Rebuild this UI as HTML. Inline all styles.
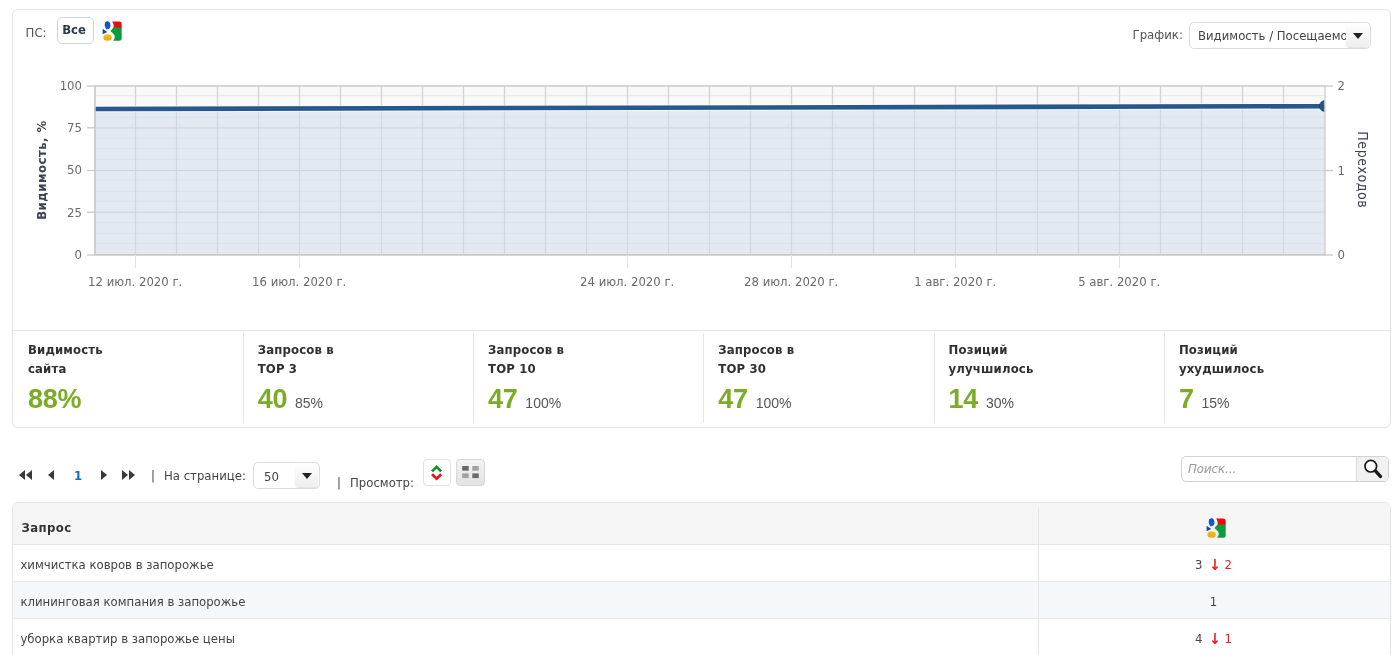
<!DOCTYPE html>
<html lang="ru"><head><meta charset="utf-8"><title>Позиции</title>
<style>
*{box-sizing:border-box}
html,body{margin:0;padding:0;background:#fff}
body{width:1400px;height:655px;overflow:hidden;position:relative;font-family:"DejaVu Sans Condensed","Liberation Sans",sans-serif;font-size:13px;color:#444}
.abs{position:absolute}
.panel{position:absolute;left:12px;top:9px;width:1379px;height:419px;border:1px solid #e4e4e4;border-radius:6px;background:#fff}
.chart{position:absolute;left:-1px;top:0px}
.ax{font-size:13px;fill:#6a6a6a;font-family:"DejaVu Sans Condensed","Liberation Sans",sans-serif}
.ayl{font-size:13px;letter-spacing:0.5px;font-weight:bold;fill:#3d4450;font-family:"DejaVu Sans Condensed","Liberation Sans",sans-serif}
.ayr{font-size:14px;letter-spacing:0.55px;fill:#3d4450;font-family:"DejaVu Sans Condensed","Liberation Sans",sans-serif}
.ps{position:absolute;left:25.6px;top:25px;line-height:16px;color:#555}
.btn-all{position:absolute;left:57px;top:17px;width:37px;height:27px;border:1px solid #cfd6dc;border-radius:5px;background:#fff;font-weight:bold;color:#2b3a4d;line-height:24px;text-align:center;font-size:13px;padding-right:3px;letter-spacing:-0.1px}
.gi{position:absolute}
.grl{position:absolute;left:1132.5px;top:27px;line-height:16px;color:#555}
.sel{position:absolute;border:1px solid #dcdcdc;border-radius:5px;background:#fff;overflow:hidden;white-space:nowrap;color:#444}
.sel .arr{position:absolute;right:1px;top:0px;bottom:1px;width:23px;background:linear-gradient(#fefefe,#eeeeee);border-radius:4px;box-shadow:0 1px 1px rgba(0,0,0,.12)}
.sel .arr:after{content:"";position:absolute;left:50%;top:50%;margin:-1.8px 0 0 -5px;border:5px solid transparent;border-top:6px solid #222;border-bottom:0}
.hr{position:absolute;left:0;right:0;top:320px;height:1px;background:#e6e6e6}
.st{position:absolute;top:323px;height:90px;width:230px;border-left:1px solid #e6e6e6;padding:8px 0 0 14px}
.st0{border-left:0;padding-left:15px}
.sl{font-weight:bold;color:#303030;line-height:19.5px;font-size:13px;letter-spacing:0.15px;position:relative;top:-1.5px}
.sv{font-family:"Liberation Sans",sans-serif;margin-top:4.3px;line-height:30px;white-space:nowrap}
.sv b{font-size:27px;color:#7bab27;font-weight:bold;letter-spacing:-0.3px}
.sv span{font-size:14px;color:#555;margin-left:4.3px}
.pg{position:absolute;top:468px;font-size:13px;line-height:16px;color:#444}
.tri{position:absolute;width:0;height:0;border:5.3px solid transparent;margin-top:-0.6px}
.tl{border-right:6.5px solid #3a3a3a;border-left:0}
.trr{border-left:6.5px solid #3a3a3a;border-right:0}
.ib{position:absolute;top:459px;width:28px;height:27px;border-radius:4px}
.table{position:absolute;left:12px;top:502px;width:1379px;height:160px;border:1px solid #e4e4e4;border-radius:6px 6px 0 0;background:#fff;overflow:hidden}
.th{position:absolute;left:0;top:0;right:0;height:42px;background:#f5f5f5;border-bottom:1px solid #e6e6e6}
.th b{position:absolute;left:8.5px;top:16.5px;line-height:16px;color:#333;font-size:13px;letter-spacing:0.4px}
.vsep{position:absolute;left:1025px;top:5px;bottom:0;width:1px;background:#e6e6e6}
.tr{position:absolute;left:0;right:0;height:37px;border-bottom:1px solid #e9e9e9;line-height:16px}
.tr.alt{background:#f5f8fb}
.tq{position:absolute;left:7.4px;top:11.6px;color:#444}
.tv{position:absolute;left:1024px;right:0;top:11.6px;text-align:center;color:#444}
.dn{color:#e8202a}
.n{margin-right:6.6px}
.ar{color:#e8202a;font-size:15px;font-weight:bold;line-height:0;margin-right:4px;position:relative;top:1px}
.search{position:absolute;left:1181px;top:456px;width:208px;height:26px;border:1px solid #d2d2d2;border-radius:5px;background:#fff;overflow:hidden}
.search i{position:absolute;left:6px;top:3.6px;line-height:16px;color:#9a9a9a;font-size:13px}
.search .sb{position:absolute;right:0;top:0;bottom:0;width:32px;background:#f1f1f1;border-left:1px solid #d8d8d8}
</style></head><body>
<div class="panel">
<svg class="chart" width="1378" height="320" viewBox="12 10 1378 320">
<rect x="95" y="86.1" width="1230" height="168.9" fill="#f9f9f9"/>
<line x1="95" x2="1325" y1="95.70" y2="95.70" stroke="#e8e8e8" stroke-width="1"/>
<line x1="95" x2="1325" y1="106.40" y2="106.40" stroke="#e8e8e8" stroke-width="1"/>
<line x1="95" x2="1325" y1="117.20" y2="117.20" stroke="#e8e8e8" stroke-width="1"/>
<line x1="95" x2="1325" y1="138.00" y2="138.00" stroke="#e8e8e8" stroke-width="1"/>
<line x1="95" x2="1325" y1="148.70" y2="148.70" stroke="#e8e8e8" stroke-width="1"/>
<line x1="95" x2="1325" y1="159.40" y2="159.40" stroke="#e8e8e8" stroke-width="1"/>
<line x1="95" x2="1325" y1="180.20" y2="180.20" stroke="#e8e8e8" stroke-width="1"/>
<line x1="95" x2="1325" y1="191.30" y2="191.30" stroke="#e8e8e8" stroke-width="1"/>
<line x1="95" x2="1325" y1="201.20" y2="201.20" stroke="#e8e8e8" stroke-width="1"/>
<line x1="95" x2="1325" y1="222.60" y2="222.60" stroke="#e8e8e8" stroke-width="1"/>
<line x1="95" x2="1325" y1="233.30" y2="233.30" stroke="#e8e8e8" stroke-width="1"/>
<line x1="95" x2="1325" y1="243.70" y2="243.70" stroke="#e8e8e8" stroke-width="1"/>
<line x1="135.50" x2="135.50" y1="86.1" y2="255" stroke="#d3d3d3" stroke-width="1.25"/>
<line x1="176.50" x2="176.50" y1="86.1" y2="255" stroke="#d3d3d3" stroke-width="1.25"/>
<line x1="217.50" x2="217.50" y1="86.1" y2="255" stroke="#d3d3d3" stroke-width="1.25"/>
<line x1="258.50" x2="258.50" y1="86.1" y2="255" stroke="#d3d3d3" stroke-width="1.25"/>
<line x1="299.50" x2="299.50" y1="86.1" y2="255" stroke="#d3d3d3" stroke-width="1.25"/>
<line x1="340.50" x2="340.50" y1="86.1" y2="255" stroke="#d3d3d3" stroke-width="1.25"/>
<line x1="381.50" x2="381.50" y1="86.1" y2="255" stroke="#d3d3d3" stroke-width="1.25"/>
<line x1="422.50" x2="422.50" y1="86.1" y2="255" stroke="#d3d3d3" stroke-width="1.25"/>
<line x1="463.50" x2="463.50" y1="86.1" y2="255" stroke="#d3d3d3" stroke-width="1.25"/>
<line x1="504.50" x2="504.50" y1="86.1" y2="255" stroke="#d3d3d3" stroke-width="1.25"/>
<line x1="545.50" x2="545.50" y1="86.1" y2="255" stroke="#d3d3d3" stroke-width="1.25"/>
<line x1="586.50" x2="586.50" y1="86.1" y2="255" stroke="#d3d3d3" stroke-width="1.25"/>
<line x1="627.50" x2="627.50" y1="86.1" y2="255" stroke="#d3d3d3" stroke-width="1.25"/>
<line x1="668.50" x2="668.50" y1="86.1" y2="255" stroke="#d3d3d3" stroke-width="1.25"/>
<line x1="709.50" x2="709.50" y1="86.1" y2="255" stroke="#d3d3d3" stroke-width="1.25"/>
<line x1="750.50" x2="750.50" y1="86.1" y2="255" stroke="#d3d3d3" stroke-width="1.25"/>
<line x1="791.50" x2="791.50" y1="86.1" y2="255" stroke="#d3d3d3" stroke-width="1.25"/>
<line x1="832.50" x2="832.50" y1="86.1" y2="255" stroke="#d3d3d3" stroke-width="1.25"/>
<line x1="873.50" x2="873.50" y1="86.1" y2="255" stroke="#d3d3d3" stroke-width="1.25"/>
<line x1="914.50" x2="914.50" y1="86.1" y2="255" stroke="#d3d3d3" stroke-width="1.25"/>
<line x1="955.50" x2="955.50" y1="86.1" y2="255" stroke="#d3d3d3" stroke-width="1.25"/>
<line x1="996.50" x2="996.50" y1="86.1" y2="255" stroke="#d3d3d3" stroke-width="1.25"/>
<line x1="1037.50" x2="1037.50" y1="86.1" y2="255" stroke="#d3d3d3" stroke-width="1.25"/>
<line x1="1078.50" x2="1078.50" y1="86.1" y2="255" stroke="#d3d3d3" stroke-width="1.25"/>
<line x1="1119.50" x2="1119.50" y1="86.1" y2="255" stroke="#d3d3d3" stroke-width="1.25"/>
<line x1="1160.50" x2="1160.50" y1="86.1" y2="255" stroke="#d3d3d3" stroke-width="1.25"/>
<line x1="1201.50" x2="1201.50" y1="86.1" y2="255" stroke="#d3d3d3" stroke-width="1.25"/>
<line x1="1242.50" x2="1242.50" y1="86.1" y2="255" stroke="#d3d3d3" stroke-width="1.25"/>
<line x1="1283.50" x2="1283.50" y1="86.1" y2="255" stroke="#d3d3d3" stroke-width="1.25"/>
<line x1="95" x2="1325" y1="127.80" y2="127.80" stroke="#cccccc" stroke-width="1.2"/>
<line x1="95" x2="1325" y1="170.50" y2="170.50" stroke="#cccccc" stroke-width="1.2"/>
<line x1="95" x2="1325" y1="212.20" y2="212.20" stroke="#cccccc" stroke-width="1.2"/>
<polygon points="95,109.00 1325,106.20 1325,255 95,255" fill="#d0dceb" fill-opacity="0.55"/>
<clipPath id="cp"><rect x="95" y="86.1" width="1229.4" height="168.9"/></clipPath>
<g clip-path="url(#cp)"><line x1="95" y1="109.00" x2="1325" y2="106.20" stroke="#ffffff" stroke-opacity="0.6" stroke-width="6.8"/><line x1="95" y1="109.00" x2="1325" y2="106.20" stroke="#27588b" stroke-width="4.6"/>
<circle cx="1324.8" cy="106.00" r="5.3" fill="#27588b" stroke="#1b3f66" stroke-width="1"/></g>
<line x1="94.15" x2="1325.6" y1="86.1" y2="86.1" stroke="#cacaca" stroke-width="1.5"/>
<line x1="94.15" x2="1325.6" y1="254.9" y2="254.9" stroke="#c8c8c8" stroke-width="1.8"/>
<line x1="94.95" x2="94.95" y1="86.1" y2="255" stroke="#c8c8c8" stroke-width="1.7"/>
<line x1="1325" x2="1325" y1="86.1" y2="255" stroke="#cacaca" stroke-width="1.25"/>
<line x1="87" x2="95" y1="86.10" y2="86.10" stroke="#cccccc" stroke-width="1.4"/>
<text x="82" y="89.80" text-anchor="end" class="ax">100</text>
<line x1="87" x2="95" y1="127.80" y2="127.80" stroke="#cccccc" stroke-width="1.4"/>
<text x="82" y="132.40" text-anchor="end" class="ax">75</text>
<line x1="87" x2="95" y1="170.50" y2="170.50" stroke="#cccccc" stroke-width="1.4"/>
<text x="82" y="174.40" text-anchor="end" class="ax">50</text>
<line x1="87" x2="95" y1="212.20" y2="212.20" stroke="#cccccc" stroke-width="1.4"/>
<text x="82" y="217.30" text-anchor="end" class="ax">25</text>
<line x1="87" x2="95" y1="255.00" y2="255.00" stroke="#cccccc" stroke-width="1.4"/>
<text x="82" y="258.60" text-anchor="end" class="ax">0</text>
<line x1="1325" x2="1333" y1="86.10" y2="86.10" stroke="#cccccc" stroke-width="1.4"/>
<text x="1337.6" y="90.10" class="ax">2</text>
<line x1="1325" x2="1333" y1="170.50" y2="170.50" stroke="#cccccc" stroke-width="1.4"/>
<text x="1337.6" y="174.50" class="ax">1</text>
<line x1="1325" x2="1333" y1="255.00" y2="255.00" stroke="#cccccc" stroke-width="1.4"/>
<text x="1337.6" y="259.00" class="ax">0</text>
<line x1="135.50" x2="135.50" y1="255" y2="267.6" stroke="#e2e2e2" stroke-width="1"/>
<text x="135.20" y="286.1" text-anchor="middle" class="ax">12 июл. 2020 г.</text>
<line x1="299.50" x2="299.50" y1="255" y2="267.6" stroke="#e2e2e2" stroke-width="1"/>
<text x="299.20" y="286.1" text-anchor="middle" class="ax">16 июл. 2020 г.</text>
<line x1="627.50" x2="627.50" y1="255" y2="267.6" stroke="#e2e2e2" stroke-width="1"/>
<text x="627.20" y="286.1" text-anchor="middle" class="ax">24 июл. 2020 г.</text>
<line x1="791.50" x2="791.50" y1="255" y2="267.6" stroke="#e2e2e2" stroke-width="1"/>
<text x="791.20" y="286.1" text-anchor="middle" class="ax">28 июл. 2020 г.</text>
<line x1="955.50" x2="955.50" y1="255" y2="267.6" stroke="#e2e2e2" stroke-width="1"/>
<text x="955.20" y="286.1" text-anchor="middle" class="ax">1 авг. 2020 г.</text>
<line x1="1119.50" x2="1119.50" y1="255" y2="267.6" stroke="#e2e2e2" stroke-width="1"/>
<text x="1119.20" y="286.1" text-anchor="middle" class="ax">5 авг. 2020 г.</text>
<text transform="translate(46.3,170) rotate(-90)" text-anchor="middle" class="ayl">Видимость, %</text>
<text transform="translate(1357.5,169.8) rotate(90)" text-anchor="middle" class="ayr">Переходов</text>
</svg>
<div class="hr"></div>
<div class="st st0" style="left:0px"><div class="sl">Видимость<br>сайта</div><div class="sv"><b>88%</b></div></div>
<div class="st st1" style="left:229.7px"><div class="sl">Запросов в<br>TOP 3</div><div class="sv"><b>40</b> <span>85%</span></div></div>
<div class="st st2" style="left:460.0px"><div class="sl">Запросов в<br>TOP 10</div><div class="sv"><b>47</b> <span>100%</span></div></div>
<div class="st st3" style="left:690.3px"><div class="sl">Запросов в<br>TOP 30</div><div class="sv"><b>47</b> <span>100%</span></div></div>
<div class="st st4" style="left:920.6px"><div class="sl">Позиций<br>улучшилось</div><div class="sv"><b>14</b> <span>30%</span></div></div>
<div class="st st5" style="left:1150.9px"><div class="sl">Позиций<br>ухудшилось</div><div class="sv"><b>7</b> <span>15%</span></div></div>
</div>
<div class="ps">ПС:</div>
<div class="btn-all">Все</div>
<div class="abs" style="left:101.5px;top:21px;width:20px;height:20px"><svg class="gi" width="20" height="20" viewBox="0 0 20 20">
<defs><linearGradient id="gy" x1="0" y1="0" x2="0" y2="1"><stop offset="0" stop-color="#f7c21a"/><stop offset="1" stop-color="#eda41a"/></linearGradient>
<linearGradient id="gb" x1="0" y1="0" x2="0" y2="1"><stop offset="0" stop-color="#0a4cc0"/><stop offset="1" stop-color="#1a62cc"/></linearGradient></defs>
<path d="M10 0.4H17.2a2.5 2.5 0 0 1 2.5 2.5V6.9H11.6C11.9 4.500 11.5 2 10 0.4z" fill="#f00a0a"/>
<path d="M11.6 6.500H19.7V17.300a2.500 2.500 0 0 1-2.500 2.500H11C13 18 13.2 15.500 12.2 13.8C11.2 12.2 9.500 11.500 8.500 10C9.500 8.300 11 7.500 11.6 6.500z" fill="#0f9a3e"/>
<ellipse cx="5.600" cy="4.300" rx="2.850" ry="4" fill="url(#gb)" transform="rotate(-8 5.600 4.300)"/>
<path d="M0.6 7.800L5.300 11L0.6 13.300z" fill="#0a47b0"/>
<ellipse cx="5.600" cy="16.500" rx="4.200" ry="3.200" fill="url(#gy)"/>
</svg></div>
<div class="grl">График:</div>
<div class="sel" style="left:1189px;top:22px;width:182px;height:27px;padding:5px 0 0 8px;line-height:16px">Видимость / Посещаемость<div class="arr"></div></div>

<div class="tri tl" style="left:19px;top:471px"></div><div class="tri tl" style="left:26px;top:471px"></div>
<div class="tri tl" style="left:48px;top:471px"></div>
<div class="pg" style="left:74px;color:#1a6cb6;font-weight:bold">1</div>
<div class="tri trr" style="left:101px;top:471px"></div>
<div class="tri trr" style="left:122px;top:471px"></div><div class="tri trr" style="left:129px;top:471px"></div>
<div class="pg" style="left:151px">|</div>
<div class="pg" style="left:164px">На странице:</div>
<div class="sel" style="left:253px;top:462px;width:67px;height:27px;padding:5.5px 0 0 10px;line-height:16px">50<div class="arr"></div></div>
<div class="pg" style="left:337px;top:475px">|</div>
<div class="pg" style="left:350px;top:475px">Просмотр:</div>
<div class="ib" style="left:423px;border:1px solid #e2e2e2;background:#fff">
<svg width="25" height="24" viewBox="0 0 25 24"><path d="M8 11.4L12.6 6.9L17.200 11.4" fill="none" stroke="#12922c" stroke-width="2.700"/><path d="M8 14.2L12.6 18.700L17.200 14.2" fill="none" stroke="#e3131f" stroke-width="2.700"/></svg></div>
<div class="ib" style="left:456px;width:29px;border:1px solid #d6d6d6;background:linear-gradient(#f4f4f4,#e2e2e2)">
<svg width="27" height="24" viewBox="0 0 27 24"><rect x="5.200" y="6" width="6.500" height="4.700" fill="#6a6a6a"/><rect x="15.300" y="6" width="6.500" height="4.700" fill="#a2a2a2"/><rect x="5.200" y="13.400" width="6.500" height="4.700" fill="#a2a2a2"/><rect x="15.300" y="13.400" width="6.500" height="4.700" fill="#6a6a6a"/></svg></div>

<div class="search"><i>Поиск...</i><div class="sb"><svg width="31" height="25" viewBox="0 0 31 25"><circle cx="13.800" cy="9.200" r="5.800" fill="#fff" stroke="#1a1a1a" stroke-width="1.700"/><path d="M18.600 14.200L23.400 19.400" stroke="#1a1a1a" stroke-width="3.400" stroke-linecap="round"/></svg></div></div>

<div class="table">
<div class="th"><b>Запрос</b><div class="abs" style="left:1193px;top:15px;width:20px;height:20px"><svg class="gi" width="20" height="20" viewBox="0 0 20 20">
<defs><linearGradient id="gy" x1="0" y1="0" x2="0" y2="1"><stop offset="0" stop-color="#f7c21a"/><stop offset="1" stop-color="#eda41a"/></linearGradient>
<linearGradient id="gb" x1="0" y1="0" x2="0" y2="1"><stop offset="0" stop-color="#0a4cc0"/><stop offset="1" stop-color="#1a62cc"/></linearGradient></defs>
<path d="M10 0.4H17.2a2.5 2.5 0 0 1 2.5 2.5V6.9H11.6C11.9 4.500 11.5 2 10 0.4z" fill="#f00a0a"/>
<path d="M11.6 6.500H19.7V17.300a2.500 2.500 0 0 1-2.500 2.500H11C13 18 13.2 15.500 12.2 13.8C11.2 12.2 9.500 11.500 8.500 10C9.500 8.300 11 7.500 11.6 6.500z" fill="#0f9a3e"/>
<ellipse cx="5.600" cy="4.300" rx="2.850" ry="4" fill="url(#gb)" transform="rotate(-8 5.600 4.300)"/>
<path d="M0.6 7.800L5.300 11L0.6 13.300z" fill="#0a47b0"/>
<ellipse cx="5.600" cy="16.500" rx="4.200" ry="3.200" fill="url(#gy)"/>
</svg></div></div>
<div class="tr" style="top:42px"><div class="tq">химчистка ковров в запорожье</div><div class="tv"><span class="n">3</span><span class="ar">↓</span><span class="dn">2</span></div></div>
<div class="tr alt" style="top:79px"><div class="tq">клининговая компания в запорожье</div><div class="tv">1</div></div>
<div class="tr" style="top:116px"><div class="tq">уборка квартир в запорожье цены</div><div class="tv"><span class="n">4</span><span class="ar">↓</span><span class="dn">1</span></div></div>
<div class="vsep"></div>
</div>
</body></html>
